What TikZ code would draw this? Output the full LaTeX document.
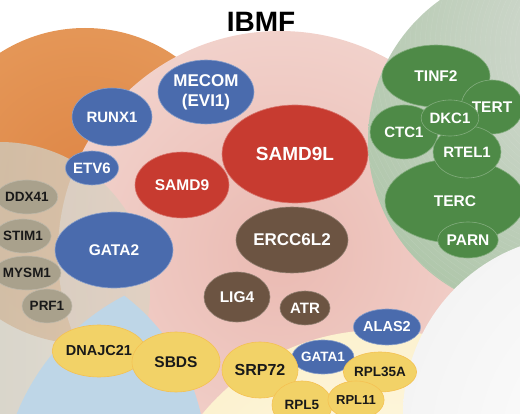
\documentclass[tikz,border=0pt]{standalone}
\usepackage{fontspec}
\setmainfont{Liberation Sans}
\setsansfont{Liberation Sans}
\usetikzlibrary{shapes.geometric}

% colours of the sets
\definecolor{orangein}{HTML}{DE8646}
\definecolor{orangemid}{HTML}{E79D5E}
\definecolor{orangeout}{HTML}{F4D4B6}
\definecolor{pinkin}{HTML}{EABAB2}
\definecolor{pinkout}{HTML}{F9E8E3}
\definecolor{tanleft}{HTML}{BFC1B7}
\definecolor{tanright}{HTML}{DDD3C3}
\definecolor{lensblue}{HTML}{BED6E7}
\definecolor{creamin}{HTML}{FFFBEA}
\definecolor{creamout}{HTML}{F9E8B5}
\definecolor{greenin}{HTML}{D8DCD6}
\definecolor{greenout}{HTML}{84B07C}
\definecolor{greyin}{HTML}{FFFFFF}
\definecolor{greymid}{HTML}{F1F1F1}
\definecolor{greyout}{HTML}{AFAFAF}
% colours of the genes
\definecolor{geneblue}{HTML}{4A6BAD}
\definecolor{genered}{HTML}{C73B30}
\definecolor{genebrown}{HTML}{6C5442}
\definecolor{genegreen}{HTML}{4E8A47}
\definecolor{genetan}{HTML}{A9A18C}
\definecolor{geneyellow}{HTML}{F2D267}

\pgfdeclareradialshading{orangeball}{\pgfpoint{0bp}{0bp}}{color(0bp)=(orangein); color(35bp)=(orangemid); color(50bp)=(orangeout)}
\pgfdeclareradialshading{pinkball}{\pgfpoint{0bp}{0bp}}{color(0bp)=(pinkin); color(50bp)=(pinkout)}
\pgfdeclareradialshading{creamball}{\pgfpoint{0bp}{0bp}}{color(0bp)=(creamin); color(50bp)=(creamout)}
\pgfdeclareradialshading{greenball}{\pgfpoint{0bp}{0bp}}{color(0bp)=(greenin); color(50bp)=(greenout)}
\pgfdeclareradialshading{greyball}{\pgfpoint{0bp}{0bp}}{color(0bp)=(greyin); color(30bp)=(greymid); color(50bp)=(greyout)}

\newcommand{\gsize}[1]{\fontsize{#1}{#1}\selectfont}

\tikzset{
  gene/.style={ellipse, inner sep=0pt, line width=0.6pt, align=center,
    font=\sffamily\bfseries\gsize{15}, text=white},
  dims/.style 2 args={minimum width=#1pt, minimum height=#2pt},
  bluegene/.style={gene, fill=geneblue, draw=geneblue!65!white},
  redgene/.style={gene, fill=genered, draw=genered!70!white},
  browngene/.style={gene, fill=genebrown, draw=genebrown!75!white},
  greengene/.style={gene, fill=genegreen, draw=genegreen!70!white},
  tangene/.style={gene, fill=genetan, draw=genetan!75!white, text=black!90},
  yellowgene/.style={gene, fill=geneyellow, draw=geneyellow!80!orange, text=black!90},
  small/.style={font=\sffamily\bfseries\gsize{13.5}},
  large/.style={font=\sffamily\bfseries\gsize{17}},
}

\begin{document}
\begin{tikzpicture}[x=1pt,y=-1pt]
\useasboundingbox (0,0) rectangle (520,414);
\clip (0,0) rectangle (520,414);
%
% the overlapping sets
\shade[shading=orangeball] (85,186) circle[radius=158pt];
\shade[shading=pinkball] (280,253) circle[radius=222pt];
\shade[left color=tanleft, right color=tanright, fill opacity=0.78] (0,292) circle[radius=150pt];
\begin{scope}
  \clip (230,500) circle[radius=230pt];
  \fill[lensblue] (0,460) circle[radius=206pt];
\end{scope}
\shade[shading=creamball] (380,560) circle[radius=230pt];
\begin{scope}
  \clip (540,140) circle[radius=172pt];
  \shade[shading=greenball] (610,50) circle[radius=300pt];
  \foreach \r in {40,45,...,300}
    \draw[white, opacity=0.12, line width=0.3pt] (610,50) circle[radius=\r pt];
\end{scope}
\begin{scope}
  \clip (583,415) circle[radius=180pt];
  \shade[shading=greyball] (650,450) circle[radius=270pt];
\end{scope}
%
\node[font=\sffamily\bfseries\gsize{28}] (title) at (261,22) {IBMF};
%
% blue genes
\node[bluegene, dims={80}{58}] (runx1) at (112,117) {RUNX1};
\node[bluegene, dims={96}{64}, font=\sffamily\bfseries\fontsize{17}{20}\selectfont] (mecom) at (206,92) {MECOM\\(EVI1)};
\node[bluegene, dims={50}{34}] (etv6) at (92,168) {ETV6};
\node[bluegene, dims={118}{76}, font=\sffamily\bfseries\gsize{15.5}] (gata2) at (114,250) {GATA2};
\node[bluegene, dims={52}{36}, font=\sffamily\bfseries\gsize{14.5}] (alas2) at (387,327) {ALAS2};
\node[bluegene, dims={50}{34}, small] (gata1) at (323,357) {GATA1};
% red genes
\node[redgene, dims={146}{98}, font=\sffamily\bfseries\gsize{19}] (samd9l) at (295,154) {SAMD9L};
\node[redgene, dims={94}{66}, font=\sffamily\bfseries\gsize{15.5}] (samd9) at (182,185) {SAMD9};
% brown genes
\node[browngene, dims={112}{66}, large] (ercc6l2) at (292,240) {ERCC6L2};
\node[browngene, dims={66}{50}, font=\sffamily\bfseries\gsize{15.5}] (lig4) at (237,297) {LIG4};
\node[browngene, dims={50}{34}] (atr) at (305,308) {ATR};
% green genes
\node[greengene, dims={140}{84}, font=\sffamily\bfseries\gsize{15.5}] (terc) at (455,201) {TERC};
\node[greengene, dims={68}{54}] (ctc1) at (404,132) {CTC1};
\node[greengene, dims={108}{62}, font=\sffamily\bfseries\gsize{15.5}] (tinf2) at (436,76) {TINF2};
\node[greengene, dims={62}{54}, font=\sffamily\bfseries\gsize{15.5}] (tert) at (492,107) {TERT};
\node[greengene, dims={68}{52}] (rtel1) at (467,152) {RTEL1};
\node[greengene, dims={46}{36}] (dkc1) at (450,118) {DKC1};
\node[greengene, dims={56}{36}, font=\sffamily\bfseries\gsize{15.5}] (parn) at (468,240) {PARN};
% grey genes
\node[tangene, dims={50}{34}, small] (ddx41) at (27,197) {DDX41};
\node[tangene, dims={48}{34}, small] (stim1) at (23,236) {STIM1};
\node[tangene, dims={54}{34}, small] (mysm1) at (27,273) {MYSM1};
\node[tangene, dims={50}{34}, small] (prf1) at (47,306) {PRF1};
% yellow genes
\node[yellowgene, dims={68}{52}, font=\sffamily\bfseries\gsize{14.5}] (dnajc21) at (99,351) {DNAJC21};
\node[yellowgene, dims={88}{60}, font=\sffamily\bfseries\gsize{15.5}] (sbds) at (176,362) {SBDS};
\node[yellowgene, dims={76}{56}, font=\sffamily\bfseries\gsize{16}] (srp72) at (260,370) {SRP72};
\node[yellowgene, dims={54}{40}, small] (rpl35a) at (380,372) {RPL35A};
\node[yellowgene, dims={60}{48}, small] (rpl5) at (302,405) {RPL5};
\node[yellowgene, dims={48}{38}, font=\sffamily\bfseries\gsize{13}] (rpl11) at (356,400) {RPL11};
%
\end{tikzpicture}
\end{document}
